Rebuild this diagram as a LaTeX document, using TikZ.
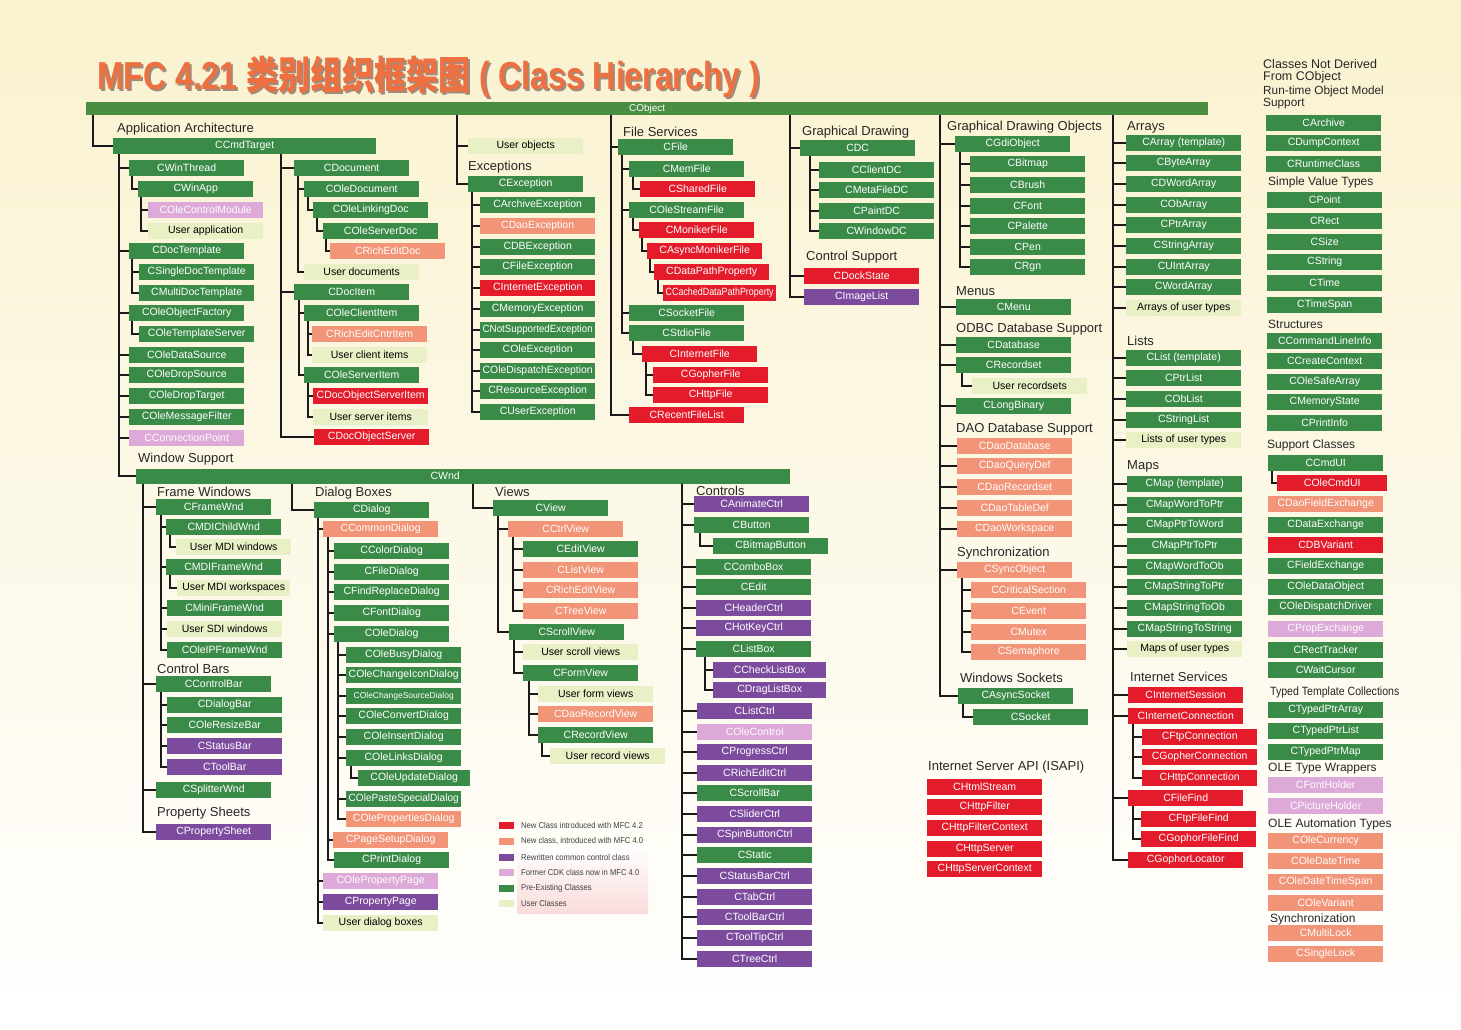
\documentclass[tikz,border=0pt]{standalone}
\usepackage{fontspec}
\usepackage{graphicx}
\setmainfont{Liberation Sans}
\newfontfamily\cjk{Noto Sans CJK SC}
\definecolor{cG}{HTML}{3A8A48}
\definecolor{cR}{HTML}{E31B2A}
\definecolor{cS}{HTML}{F29477}
\definecolor{cP}{HTML}{7C4B9E}
\definecolor{cK}{HTML}{DDA9D8}
\definecolor{cU}{HTML}{E9F0C6}
\definecolor{cObj}{HTML}{4A8E42}
\definecolor{lineC}{HTML}{1A1A1A}
\definecolor{bgA}{HTML}{FAF2CF}
\definecolor{bgB}{HTML}{FDFAEA}
\definecolor{titleC}{HTML}{EE6F3F}
\definecolor{titleSh}{HTML}{A08C7C}
\definecolor{legPink}{HTML}{FADCDC}
\newsavebox\fitbox
\newlength\fitw
\newcommand\fitto[2]{\setlength\fitw{#1}\sbox\fitbox{#2}\ifdim\wd\fitbox>\fitw\resizebox{\fitw}{\ht\fitbox}{\usebox\fitbox}\else\usebox\fitbox\fi}
\newcommand\B[6][115]{\node[bx,#5,minimum width=#1pt] (#2) at (#3,#4) {\fitto{\dimexpr#1pt-5pt\relax}{#6}};}
\newcommand\tk[3]{\foreach \kk in {#3}{\draw[ln] ([xshift=#2pt]#1.south west) |- (\kk.west);}}
\newcommand\lgtext[1]{\scalebox{0.9}[1]{#1}}
\newcommand\titletext{\scalebox{0.82}[1]{\fontsize{39}{44}\selectfont\bfseries MFC 4.21 {\cjk\bfseries 类别组织框架图} ( Class Hierarchy )}}
\begin{document}
\begin{tikzpicture}[x=1pt,y=-1pt,
  bx/.style={anchor=west,minimum height=16pt,inner sep=0pt,font=\fontsize{10.5}{12}\selectfont,text=white},
  bG/.style={fill=cG},bR/.style={fill=cR},bS/.style={fill=cS},bP/.style={fill=cP},bK/.style={fill=cK},bU/.style={fill=cU,text=black},
  lbl/.style={anchor=west,inner sep=0pt,font=\fontsize{13}{15}\selectfont,text=black!85},
  lbs/.style={anchor=west,inner sep=0pt,font=\fontsize{12}{13}\selectfont,text=black!85},
  ln/.style={draw=lineC,line width=1.4pt},
  sw/.style={minimum width=15pt,minimum height=7pt,inner sep=0pt},
  lgt/.style={anchor=west,inner sep=0pt,font=\fontsize{8.5}{10}\selectfont,text=black!75}]
\useasboundingbox (0,0) rectangle (1461,1029);
\shade[top color=bgA, middle color=bgB, bottom color=white] (0,0) rectangle (1461,1029);
% title
\node[anchor=base west,inner sep=0pt,text=titleSh] (titlesh) at (99,91) {\titletext};
\node[anchor=base west,inner sep=0pt,text=titleC] (title) at (97,89) {\titletext};
% CObject bar
\node[anchor=west,fill=cObj,minimum width=1122pt,minimum height=13pt,inner sep=0pt,text=white,font=\fontsize{10}{12}\selectfont] (cobj) at (86,108.5) {CObject};
% ---------------- Application Architecture
\node[lbl] (hAA) at (117,129) {Application Architecture};
\B[263]{ccmd}{113}{146}{bG}{CCmdTarget}
\B{cwinthread}{129}{168}{bG}{CWinThread}
\B{cwinapp}{138}{189}{bG}{CWinApp}
\B{colecm}{148}{210}{bK}{COleControlModule}
\B{uapp}{148}{231}{bU}{User application}
\B{cdoctpl}{129}{251}{bG}{CDocTemplate}
\B{csdt}{139}{272}{bG}{CSingleDocTemplate}
\B{cmdt}{139}{293}{bG}{CMultiDocTemplate}
\B{coof}{129}{313}{bG}{COleObjectFactory}
\B{cots}{139}{334}{bG}{COleTemplateServer}
\B{cods}{129}{355}{bG}{COleDataSource}
\B{codsrc}{129}{375}{bG}{COleDropSource}
\B{codt}{129}{396}{bG}{COleDropTarget}
\B{comf}{129}{417}{bG}{COleMessageFilter}
\B{ccp}{129}{438}{bK}{CConnectionPoint}
\B{cdocument}{294}{168}{bG}{CDocument}
\B{coledoc}{304}{189}{bG}{COleDocument}
\B{colelink}{313}{210}{bG}{COleLinkingDoc}
\B{coleserverdoc}{323}{231}{bG}{COleServerDoc}
\B{crichdoc}{330}{251}{bS}{CRichEditDoc}
\B{udocs}{304}{272}{bU}{User documents}
\B{cdocitem}{294}{292}{bG}{CDocItem}
\B{coleclient}{304}{313}{bG}{COleClientItem}
\B{crichcntr}{312}{334}{bS}{CRichEditCntrItem}
\B{uclient}{312}{355}{bU}{User client items}
\B{coleserveritem}{304}{375}{bG}{COleServerItem}
\B{cdocosi}{313}{396}{bR}{CDocObjectServerItem}
\B{userver}{313}{417}{bU}{User server items}
\B{cdocobjserver}{314}{437}{bR}{CDocObjectServer}
% ---------------- Exceptions
\B{uobj}{468}{146}{bU}{User objects}
\node[lbl] (hEx) at (468,167) {Exceptions};
\B{cexc}{468}{184}{bG}{CException}
\B{ex1}{480}{205}{bG}{CArchiveException}
\B{ex2}{480}{226}{bS}{CDaoException}
\B{ex3}{480}{247}{bG}{CDBException}
\B{ex4}{480}{267}{bG}{CFileException}
\B{ex5}{480}{288}{bR}{CInternetException}
\B{ex6}{480}{309}{bG}{CMemoryException}
\B{ex7}{480}{330}{bG}{CNotSupportedException}
\B{ex8}{480}{350}{bG}{COleException}
\B{ex9}{480}{371}{bG}{COleDispatchException}
\B{ex10}{480}{391}{bG}{CResourceException}
\B{ex11}{480}{412}{bG}{CUserException}
% ---------------- File Services
\node[lbl] (hFS) at (623,132) {File Services};
\B{cfile}{618}{147}{bG}{CFile}
\B{cmemfile}{629}{169}{bG}{CMemFile}
\B{csharedfile}{640}{189}{bR}{CSharedFile}
\B{colestream}{629}{210}{bG}{COleStreamFile}
\B{cmoniker}{639}{230}{bR}{CMonikerFile}
\B{casyncmon}{647}{251}{bR}{CAsyncMonikerFile}
\B{cdatapath}{654}{272}{bR}{CDataPathProperty}
\B[113]{ccached}{663}{293}{bR}{CCachedDataPathProperty}
\B{csocketfile}{629}{313}{bG}{CSocketFile}
\B{cstdio}{629}{333}{bG}{CStdioFile}
\B{cinetfile}{642}{354}{bR}{CInternetFile}
\B{cgopherfile}{653}{375}{bR}{CGopherFile}
\B{chttpfile}{653}{395}{bR}{CHttpFile}
\B{crecentfl}{629}{415}{bR}{CRecentFileList}
% ---------------- Graphical Drawing
\node[lbl] (hGD) at (802,132) {Graphical Drawing};
\B{cdc}{800}{148}{bG}{CDC}
\B{cclientdc}{819}{170}{bG}{CClientDC}
\B{cmetadc}{819}{190}{bG}{CMetaFileDC}
\B{cpaintdc}{819}{211}{bG}{CPaintDC}
\B{cwindowdc}{819}{231}{bG}{CWindowDC}
\node[lbl] (hCS) at (806,257) {Control Support};
\B{cdockstate}{804}{276}{bR}{CDockState}
\B{cimagelist}{804}{297}{bP}{CImageList}
% ---------------- GDI objects etc.
\node[lbl] (hGDO) at (947,127) {Graphical Drawing Objects};
\B{cgdi}{955}{144}{bG}{CGdiObject}
\B{cbitmap}{970}{164}{bG}{CBitmap}
\B{cbrush}{970}{185}{bG}{CBrush}
\B{cfont}{970}{206}{bG}{CFont}
\B{cpalette}{970}{226}{bG}{CPalette}
\B{cpen}{970}{247}{bG}{CPen}
\B{crgn}{970}{267}{bG}{CRgn}
\node[lbl] (hMenus) at (956,291) {Menus};
\B{cmenu}{956}{307}{bG}{CMenu}
\node[lbl] (hODBC) at (956,329) {ODBC Database Support};
\B{cdatabase}{956}{345}{bG}{CDatabase}
\B{crecordset}{956}{365}{bG}{CRecordset}
\B{urecordsets}{972}{386}{bU}{User recordsets}
\B{clongbin}{956}{406}{bG}{CLongBinary}
\node[lbl] (hDAO) at (956,429) {DAO Database Support};
\B{dao1}{957}{446}{bS}{CDaoDatabase}
\B{dao2}{957}{466}{bS}{CDaoQueryDef}
\B{dao3}{957}{487}{bS}{CDaoRecordset}
\B{dao4}{957}{508}{bS}{CDaoTableDef}
\B{dao5}{957}{529}{bS}{CDaoWorkspace}
\node[lbl] (hSync) at (957,553) {Synchronization};
\B{csync}{957}{570}{bS}{CSyncObject}
\B{ccrit}{971}{590}{bS}{CCriticalSection}
\B{cevent}{971}{611}{bS}{CEvent}
\B{cmutex}{971}{632}{bS}{CMutex}
\B{csema}{971}{652}{bS}{CSemaphore}
\node[lbl] (hWS) at (960,678) {Windows Sockets};
\B{casyncsock}{958}{696}{bG}{CAsyncSocket}
\B{csocket}{973}{717}{bG}{CSocket}
\node[lbl] (hISAPI) at (928,767) {Internet Server API (ISAPI)};
\B{isa1}{927}{787}{bR}{CHtmlStream}
\B{isa2}{927}{807}{bR}{CHttpFilter}
\B{isa3}{927}{828}{bR}{CHttpFilterContext}
\B{isa4}{927}{849}{bR}{CHttpServer}
\B{isa5}{927}{869}{bR}{CHttpServerContext}
% ---------------- Arrays / Lists / Maps / Internet
\node[lbl] (hArr) at (1127,127) {Arrays};
\B{ar1}{1126}{143}{bG}{CArray (template)}
\B{ar2}{1126}{163}{bG}{CByteArray}
\B{ar3}{1126}{184}{bG}{CDWordArray}
\B{ar4}{1126}{205}{bG}{CObArray}
\B{ar5}{1126}{225}{bG}{CPtrArray}
\B{ar6}{1126}{246}{bG}{CStringArray}
\B{ar7}{1126}{267}{bG}{CUIntArray}
\B{ar8}{1126}{287}{bG}{CWordArray}
\B{ar9}{1126}{308}{bU}{Arrays of user types}
\node[lbl] (hLists) at (1127,341) {Lists};
\B{li1}{1126}{358}{bG}{CList (template)}
\B{li2}{1126}{378}{bG}{CPtrList}
\B{li3}{1126}{399}{bG}{CObList}
\B{li4}{1126}{420}{bG}{CStringList}
\B{li5}{1126}{440}{bU}{Lists of user types}
\node[lbl] (hMaps) at (1127,466) {Maps};
\B{mp1}{1127}{484}{bG}{CMap (template)}
\B{mp2}{1127}{505}{bG}{CMapWordToPtr}
\B{mp3}{1127}{525}{bG}{CMapPtrToWord}
\B{mp4}{1127}{546}{bG}{CMapPtrToPtr}
\B{mp5}{1127}{567}{bG}{CMapWordToOb}
\B{mp6}{1127}{587}{bG}{CMapStringToPtr}
\B{mp7}{1127}{608}{bG}{CMapStringToOb}
\B{mp8}{1127}{629}{bG}{CMapStringToString}
\B{mp9}{1127}{649}{bU}{Maps of user types}
\node[lbl] (hIS) at (1130,677) {Internet Services};
\B{cinetsess}{1128}{695}{bR}{CInternetSession}
\B{cinetconn}{1128}{716}{bR}{CInternetConnection}
\B{cftpconn}{1142}{737}{bR}{CFtpConnection}
\B{cgophconn}{1142}{757}{bR}{CGopherConnection}
\B{chttpconn}{1142}{778}{bR}{CHttpConnection}
\B{cfilefind}{1128}{798}{bR}{CFileFind}
\B{cftpff}{1141}{819}{bR}{CFtpFileFind}
\B{cgophff}{1141}{839}{bR}{CGophorFileFind}
\B{cgophloc}{1128}{860}{bR}{CGophorLocator}
% ---------------- Classes not derived from CObject
\node[lbs,align=left,font=\fontsize{12.5}{12}\selectfont] (hND) at (1263,71) {Classes Not Derived\\From CObject};
\node[lbs,align=left,font=\fontsize{11.8}{11.5}\selectfont] (hRT) at (1263,97.5) {Run-time Object Model\\Support};
\B{nd1}{1266}{123}{bG}{CArchive}
\B{nd2}{1266}{143}{bG}{CDumpContext}
\B{nd3}{1266}{164}{bG}{CRuntimeClass}
\node[lbs] (hSV) at (1268,182) {Simple Value Types};
\B{sv1}{1267}{200}{bG}{CPoint}
\B{sv2}{1267}{221}{bG}{CRect}
\B{sv3}{1267}{242}{bG}{CSize}
\B{sv4}{1267}{262}{bG}{CString}
\B{sv5}{1267}{283}{bG}{CTime}
\B{sv6}{1267}{305}{bG}{CTimeSpan}
\node[lbs] (hStr) at (1268,324) {Structures};
\B{st1}{1267}{341}{bG}{CCommandLineInfo}
\B{st2}{1267}{361}{bG}{CCreateContext}
\B{st3}{1267}{382}{bG}{COleSafeArray}
\B{st4}{1267}{402}{bG}{CMemoryState}
\B{st5}{1267}{423}{bG}{CPrintInfo}
\node[lbs] (hSC) at (1267,445) {Support Classes};
\B{ccmdui}{1268}{463}{bG}{CCmdUI}
\B[110]{colecmdui}{1277}{483}{bR}{COleCmdUI}
\B{sc1}{1268}{504}{bS}{CDaoFieldExchange}
\B{sc2}{1268}{525}{bG}{CDataExchange}
\B{sc3}{1268}{545}{bR}{CDBVariant}
\B{sc4}{1268}{566}{bG}{CFieldExchange}
\B{sc5}{1268}{587}{bG}{COleDataObject}
\B{sc6}{1268}{607}{bG}{COleDispatchDriver}
\B{sc7}{1268}{629}{bK}{CPropExchange}
\B{sc8}{1268}{650}{bG}{CRectTracker}
\B{sc9}{1268}{670}{bG}{CWaitCursor}
\node[lbs] (hTT) at (1270,692) {\scalebox{0.88}[1]{Typed Template Collections}};
\B{tt1}{1268}{710}{bG}{CTypedPtrArray}
\B{tt2}{1268}{731}{bG}{CTypedPtrList}
\B{tt3}{1268}{752}{bG}{CTypedPtrMap}
\node[lbs] (hOTW) at (1268,769) {OLE Type Wrappers};
\B{ow1}{1268}{785}{bK}{CFontHolder}
\B{ow2}{1268}{806}{bK}{CPictureHolder}
\node[lbs] (hOAT) at (1268,824) {OLE Automation Types};
\B{oa1}{1268}{841}{bS}{COleCurrency}
\B{oa2}{1268}{861}{bS}{COleDateTime}
\B{oa3}{1268}{882}{bS}{COleDateTimeSpan}
\B{oa4}{1268}{903}{bS}{COleVariant}
\node[lbs] (hSy2) at (1270,919) {Synchronization};
\B{sy1}{1268}{933}{bS}{CMultiLock}
\B{sy2}{1268}{954}{bS}{CSingleLock}
% ---------------- Window Support
\node[lbl] (hWSup) at (138,459) {Window Support};
\node[anchor=west,fill=cG,minimum width=654pt,minimum height=15pt,inner sep=0pt,text=white,font=\fontsize{10.5}{12}\selectfont] (cwnd) at (136,476) {\hspace*{-36pt}CWnd};
\node[lbl] (hFW) at (157,492) {Frame Windows};
\B{cframewnd}{156}{507}{bG}{CFrameWnd}
\B{cmdichild}{166}{527}{bG}{CMDIChildWnd}
\B{umdiw}{176}{547}{bU}{User MDI windows}
\B{cmdiframe}{166}{567}{bG}{CMDIFrameWnd}
\B[113]{umdiws}{177}{588}{bU}{User MDI workspaces}
\B{cminiframe}{167}{608}{bG}{CMiniFrameWnd}
\B{usdi}{167}{629}{bU}{User SDI windows}
\B{coleip}{167}{650}{bG}{COleIPFrameWnd}
\node[lbl] (hCB) at (157,669) {Control Bars};
\B{ccontrolbar}{156}{684}{bG}{CControlBar}
\B{cdialogbar}{167}{705}{bG}{CDialogBar}
\B{coleresize}{167}{725}{bG}{COleResizeBar}
\B{cstatusbar}{167}{746}{bP}{CStatusBar}
\B{ctoolbar}{167}{767}{bP}{CToolBar}
\B{csplitter}{156}{790}{bG}{CSplitterWnd}
\node[lbl] (hPS) at (157,813) {Property Sheets};
\B{cpropsheet}{156}{832}{bP}{CPropertySheet}
% Dialog boxes
\node[lbl] (hDB) at (315,493) {Dialog Boxes};
\B{cdialog}{314}{510}{bG}{CDialog}
\B{ccommondlg}{323}{529}{bS}{CCommonDialog}
\B{ccolordlg}{334}{551}{bG}{CColorDialog}
\B{cfiledlg}{334}{572}{bG}{CFileDialog}
\B{cfindrep}{334}{592}{bG}{CFindReplaceDialog}
\B{cfontdlg}{334}{613}{bG}{CFontDialog}
\B{coledlg}{334}{634}{bG}{COleDialog}
\B{od1}{346}{655}{bG}{COleBusyDialog}
\B{od2}{346}{675}{bG}{COleChangeIconDialog}
\B{od3}{346}{696}{bG}{{\fontsize{8.5}{10}\selectfont COleChangeSourceDialog}}
\B{od4}{346}{716}{bG}{COleConvertDialog}
\B{od5}{346}{737}{bG}{COleInsertDialog}
\B{od6}{346}{758}{bG}{COleLinksDialog}
\B[112]{coleupdate}{358}{778}{bG}{COleUpdateDialog}
\B{od7}{346}{799}{bG}{COlePasteSpecialDialog}
\B{od8}{346}{819}{bS}{COlePropertiesDialog}
\B{cpagesetup}{333}{840}{bS}{CPageSetupDialog}
\B{cprintdlg}{334}{860}{bG}{CPrintDialog}
\B{colepropage}{323}{881}{bK}{COlePropertyPage}
\B{cproppage}{323}{902}{bP}{CPropertyPage}
\B{udlg}{323}{923}{bU}{User dialog boxes}
% Views
\node[lbl] (hViews) at (495,492) {Views};
\B{cview}{493}{508}{bG}{CView}
\B{cctrlview}{508}{529}{bS}{CCtrlView}
\B{ceditview}{523}{549}{bG}{CEditView}
\B{clistview}{523}{570}{bS}{CListView}
\B{crichview}{523}{590}{bS}{CRichEditView}
\B{ctreeview}{523}{611}{bS}{CTreeView}
\B{cscrollview}{509}{632}{bG}{CScrollView}
\B{uscroll}{523}{652}{bU}{User scroll views}
\B{cformview}{523}{673}{bG}{CFormView}
\B{uform}{538}{694}{bU}{User form views}
\B{cdaorecview}{538}{714}{bS}{CDaoRecordView}
\B{crecview}{538}{735}{bG}{CRecordView}
\B{urecv}{550}{756}{bU}{User record views}
% Controls
\node[lbl] (hCtl) at (696,491) {Controls};
\B{ct1}{694}{504}{bP}{CAnimateCtrl}
\B{cbutton}{694}{525}{bG}{CButton}
\B{cbitmapbtn}{713}{546}{bG}{CBitmapButton}
\B{ct2}{696}{567}{bG}{CComboBox}
\B{ct3}{696}{587}{bG}{CEdit}
\B{ct4}{696}{608}{bP}{CHeaderCtrl}
\B{ct5}{696}{628}{bP}{CHotKeyCtrl}
\B{clistbox}{696}{649}{bG}{CListBox}
\B[113]{cchecklb}{713}{670}{bP}{CCheckListBox}
\B[113]{cdraglb}{713}{690}{bP}{CDragListBox}
\B{ct6}{697}{711}{bP}{CListCtrl}
\B{ct7}{697}{732}{bK}{COleControl}
\B{ct8}{697}{752}{bP}{CProgressCtrl}
\B{ct9}{697}{773}{bP}{CRichEditCtrl}
\B{ct10}{697}{793}{bG}{CScrollBar}
\B{ct11}{697}{814}{bP}{CSliderCtrl}
\B{ct12}{697}{835}{bP}{CSpinButtonCtrl}
\B{ct13}{697}{855}{bG}{CStatic}
\B{ct14}{697}{876}{bP}{CStatusBarCtrl}
\B{ct15}{697}{897}{bP}{CTabCtrl}
\B{ct16}{697}{917}{bP}{CToolBarCtrl}
\B{ct17}{697}{938}{bP}{CToolTipCtrl}
\B{ct18}{697}{959}{bP}{CTreeCtrl}
% ---------------- Legend
\shade[top color=white, bottom color=legPink] (517,845) rectangle (648,913);
\node[sw,fill=cR] (lg1) at (506.5,825) {};
\node[sw,fill=cS] (lg2) at (506.5,841) {};
\node[sw,fill=cP] (lg3) at (506.5,857) {};
\node[sw,fill=cK] (lg4) at (506.5,872) {};
\node[sw,fill=cG] (lg5) at (506.5,888) {};
\node[sw,fill=cU] (lg6) at (506.5,903) {};
\node[lgt] (lt1) at (521,825) {\lgtext{New Class introduced with MFC 4.2}};
\node[lgt] (lt2) at (521,841) {\lgtext{New class, introduced with MFC 4.0}};
\node[lgt] (lt3) at (521,857) {\lgtext{Rewritten common control class}};
\node[lgt] (lt4) at (521,872) {\lgtext{Former CDK class now in MFC 4.0}};
\node[lgt] (lt5) at (521,888) {\lgtext{Pre-Existing Classes}};
\node[lgt] (lt6) at (521,903) {\lgtext{User Classes}};
% ---------------- Connectors
\tk{cobj}{7}{ccmd}
\tk{cobj}{371}{uobj,cexc}
\tk{cobj}{525}{cfile,crecentfl}
\tk{cobj}{704}{cdc,cdockstate,cimagelist}
\tk{cobj}{854}{cgdi,cmenu,cdatabase,crecordset,clongbin,dao1,dao2,dao3,dao4,dao5,csync,casyncsock}
\tk{cobj}{1027}{ar1,ar2,ar3,ar4,ar5,ar6,ar7,ar8,ar9,li1,li2,li3,li4,li5,mp1,mp2,mp3,mp4,mp5,mp6,mp7,mp8,mp9,cinetsess,cinetconn,cfilefind,cgophloc}
\tk{ccmd}{6}{cwinthread,cdoctpl,coof,cods,codsrc,codt,comf,ccp,cwnd}
\tk{cwinthread}{3}{cwinapp}
\tk{cwinapp}{3}{colecm,uapp}
\tk{cdoctpl}{3}{csdt,cmdt}
\tk{coof}{3}{cots}
\tk{ccmd}{168}{cdocument,cdocitem,cdocobjserver}
\tk{cdocument}{4}{coledoc,udocs}
\tk{coledoc}{4}{colelink}
\tk{colelink}{4}{coleserverdoc}
\tk{coleserverdoc}{3}{crichdoc}
\tk{cdocitem}{5}{coleclient,coleserveritem}
\tk{coleclient}{4}{crichcntr,uclient}
\tk{coleserveritem}{4}{cdocosi,userver}
\tk{cexc}{4}{ex1,ex2,ex3,ex4,ex5,ex6,ex7,ex8,ex9,ex10,ex11}
\tk{cfile}{4}{cmemfile,colestream,csocketfile,cstdio}
\tk{cmemfile}{4}{csharedfile}
\tk{colestream}{4}{cmoniker}
\tk{cmoniker}{3}{casyncmon}
\tk{casyncmon}{3}{cdatapath}
\tk{cdatapath}{4}{ccached}
\tk{cstdio}{4}{cinetfile}
\tk{cinetfile}{4}{cgopherfile,chttpfile}
\tk{cdc}{10}{cclientdc,cmetadc,cpaintdc,cwindowdc}
\tk{cgdi}{5}{cbitmap,cbrush,cfont,cpalette,cpen,crgn}
\tk{crecordset}{6}{urecordsets}
\tk{csync}{5}{ccrit,cevent,cmutex,csema}
\tk{casyncsock}{5}{csocket}
\tk{cinetconn}{5}{cftpconn,cgophconn,chttpconn}
\tk{cfilefind}{5}{cftpff,cgophff}
\tk{ccmdui}{4}{colecmdui}
\tk{cwnd}{7}{cframewnd,ccontrolbar,csplitter,cpropsheet}
\tk{cframewnd}{5}{cmdichild,cmdiframe,cminiframe,usdi,coleip}
\tk{cmdichild}{4}{umdiw}
\tk{cmdiframe}{4}{umdiws}
\tk{ccontrolbar}{5}{cdialogbar,coleresize,cstatusbar,ctoolbar}
\tk{cwnd}{156}{cdialog}
\tk{cdialog}{4}{ccommondlg,colepropage,cproppage,udlg}
\tk{ccommondlg}{5}{ccolordlg,cfiledlg,cfindrep,cfontdlg,coledlg,cpagesetup,cprintdlg}
\tk{coledlg}{4}{od1,od2,od3,od4,od5,od6,od7,od8}
\tk{od6}{5}{coleupdate}
\tk{cwnd}{337}{cview}
\tk{cview}{5}{cctrlview,cscrollview}
\tk{cctrlview}{5}{ceditview,clistview,crichview,ctreeview}
\tk{cscrollview}{5}{uscroll,cformview}
\tk{cformview}{6}{uform,cdaorecview,crecview}
\tk{crecview}{4}{urecv}
\tk{cwnd}{546}{ct1,cbutton,ct2,ct3,ct4,ct5,clistbox,ct6,ct7,ct8,ct9,ct10,ct11,ct12,ct13,ct14,ct15,ct16,ct17,ct18}
\tk{cbutton}{6}{cbitmapbtn}
\tk{clistbox}{9}{cchecklb,cdraglb}
\end{tikzpicture}
\end{document}
